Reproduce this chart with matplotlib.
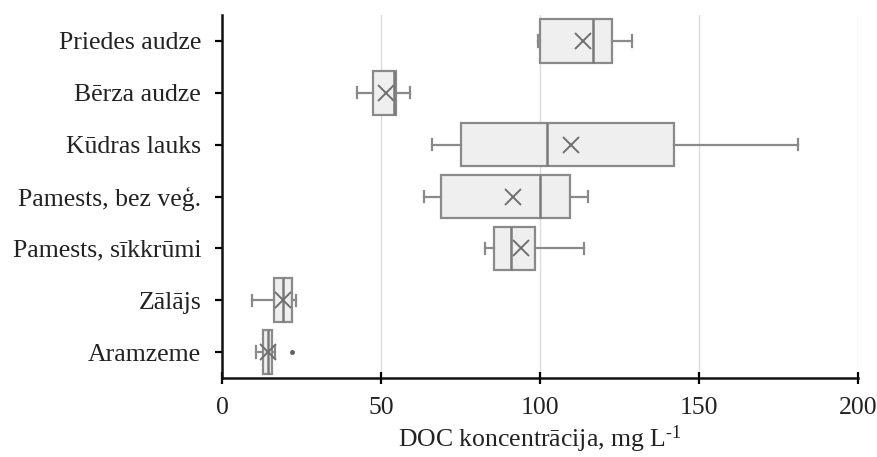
import matplotlib
matplotlib.use("Agg")
import matplotlib.pyplot as plt

plt.rcParams["font.family"] = ["Liberation Serif", "DejaVu Serif"]
plt.rcParams["mathtext.fontset"] = "custom"
plt.rcParams["mathtext.rm"] = "Liberation Serif"
plt.rcParams["mathtext.it"] = "Liberation Serif:italic"

# Land-use categories, listed top to bottom
categories = ["Priedes audze", "Bērza audze", "Kūdras lauks", "Pamests, bez veģ.",
              "Pamests, sīkkrūmi", "Zālājs", "Aramzeme"]
whisker_low = [99.5, 42.5, 66.0, 63.5, 82.7, 9.3, 10.7]
q1 = [100.0, 47.4, 75.2, 68.8, 85.5, 16.4, 13.0]
median = [116.8, 54.2, 102.1, 99.9, 91.0, 19.3, 14.5]
q3 = [122.5, 54.6, 142.1, 109.4, 98.4, 21.9, 15.6]
whisker_high = [128.8, 59.1, 181.0, 115.0, 113.8, 23.3, 16.7]
mean = [113.6, 51.5, 109.6, 91.6, 94.1, 19.3, 14.6]
outliers = [[], [], [], [], [], [], [21.9]]
x_ticks = [0, 50, 100, 150, 200]

stats = []
for i, name in enumerate(categories):
    stats.append(dict(label=name, whislo=whisker_low[i], q1=q1[i], med=median[i],
                      q3=q3[i], whishi=whisker_high[i], mean=mean[i],
                      fliers=outliers[i]))

positions = list(range(len(categories) - 1, -1, -1))

fig = plt.figure(figsize=(8.77, 4.57), dpi=100)
ax = fig.add_axes([222 / 877, 1 - 378 / 457, (858 - 222) / 877, (378 - 15) / 457])

edge = "#8a8a8a"
ax.bxp(stats, positions=positions, orientation="horizontal", widths=0.84,
       capwidths=0.22, patch_artist=True, showmeans=True,
       boxprops=dict(facecolor="#efefef", edgecolor=edge, linewidth=1.6),
       medianprops=dict(color="#7a7a7a", linewidth=1.8),
       whiskerprops=dict(color=edge, linewidth=1.6),
       capprops=dict(color=edge, linewidth=1.6),
       meanprops=dict(marker="x", markeredgecolor="#707070", markersize=11,
                      markeredgewidth=1.4),
       flierprops=dict(marker="o", markerfacecolor="#606060",
                       markeredgecolor="#606060", markersize=2.5))

ax.set_xlim(0, 200)
ax.set_ylim(-0.5, 6.5)
ax.set_xticks(x_ticks)
ax.set_yticks(positions)
ax.set_yticklabels(categories)
ax.set_axisbelow(True)
ax.grid(axis="x", color="#dcdcdc", linewidth=1.0)
ax.grid(axis="y", visible=False)

for side in ("top", "right"):
    ax.spines[side].set_visible(False)
for side in ("left", "bottom"):
    ax.spines[side].set_linewidth(1.8)
    ax.spines[side].set_color("#111111")

ax.tick_params(axis="x", direction="inout", length=8, width=1.6, labelsize=18.5,
               pad=10, labelcolor="#222222")
ax.tick_params(axis="y", direction="out", length=5, width=1.6, labelsize=18.5,
               pad=10, labelcolor="#222222")
ax.set_xlabel("DOC koncentrācija, mg L$^{\u2010\\mathregular{1}}$", fontsize=18.5,
              labelpad=3, color="#222222")

fig.savefig("out.png", dpi=100)
